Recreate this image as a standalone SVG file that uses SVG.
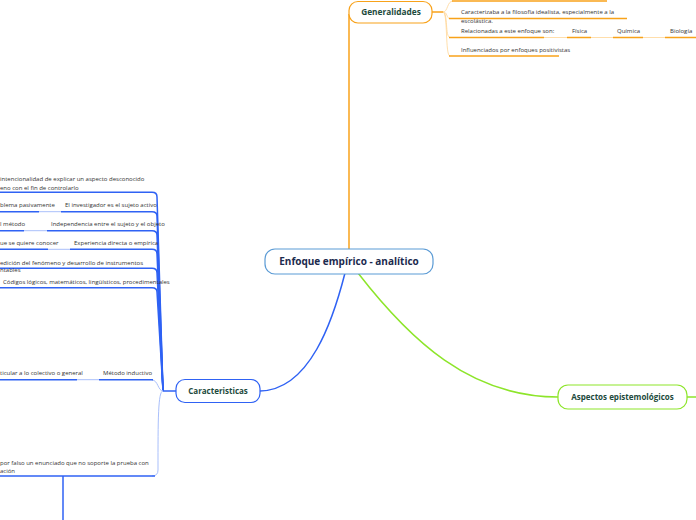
<svg xmlns="http://www.w3.org/2000/svg" width="696" height="520" viewBox="0 0 696 520">
<style>
.t{font-family:"Open Sans","Noto Sans","Liberation Sans",sans-serif;font-size:6px;fill:#333}
.h{font-family:"Open Sans","Noto Sans","Liberation Sans",sans-serif;font-weight:bold;text-anchor:middle}
.o{fill:none;stroke:#f8a21a;stroke-width:1.5}
.ol{fill:none;stroke:#ffd596;stroke-width:0.8}
.b{fill:none;stroke:#2f62f4;stroke-width:1.5}
.bl{fill:none;stroke:#a9bffb;stroke-width:1}
.g{fill:none;stroke:#8de52a;stroke-width:1.5}
</style>
<rect width="696" height="520" fill="#fff"/>
<g id="connectors">
  <path class="o" d="M349,249 L349,14"/>
  <path class="b" stroke-width="1.8" d="M345,273 C333,320 310,390 260,391"/>
  <path class="g" d="M358,273 C410,340 470,397 558,397"/>
  <path class="g" stroke-width="2" d="M687,397 H696"/>
  <!-- Generalidades fan -->
  <path class="o" d="M432,12 H443"/>
  <path class="ol" d="M443,12 C448,12 447,1 453,1"/>
  <path class="ol" d="M443,12 C448,12 446,18.5 450,18.5"/>
  <path class="ol" d="M443,12 C448,12 445,37.5 450,37.5"/>
  <path class="ol" d="M443,12 C448,12 445,56 450,56"/>
  <path class="o" d="M452,1 H607"/>
  <path class="o" d="M449,18.5 H627"/>
  <path class="o" d="M449,37.5 H544"/>
  <path class="ol" d="M544,37.5 H567 M591,37.5 H613 M643,37.5 H665"/>
  <path class="o" d="M567,37.5 H591 M613,37.5 H643 M665,37.5 H696"/>
  <path class="o" d="M449,56 H559"/>
  <!-- Caracteristicas -->
  <path class="b" stroke-width="2.5" d="M163,391 H176"/>
  <path class="b" d="M163,391 L157,197 Q157,192.3 152,192.3 H0"/>
  <path class="b" d="M163,391 L157,216 Q157,211.7 152,211.7 H61"/>
  <path class="b" d="M163,391 L157,235 Q157,230.7 152,230.7 H47"/>
  <path class="b" d="M163,391 L157,254 Q157,249.3 152,249.3 H70"/>
  <path class="b" d="M163,391 L157,273 Q157,268.3 152,268.3 H0"/>
  <path class="b" d="M163,391 L157,292 Q157,287.7 152,287.7 H0"/>
  <path class="bl" d="M163,391 C158,391 158,380 152,380"/>
  <path class="b" d="M153,379.7 H99"/>
  <path class="bl" d="M99,379.7 H77 M61,211.7 H39 M47,230.7 H24 M70,249.3 H48"/>
  <path class="b" d="M77,379.7 H0 M39,211.7 H0 M24,230.7 H0 M48,249.3 H0"/>
  <path class="bl" d="M163,391 C158,391 158,420 158,470 Q158,476 152,476"/>
  <path class="b" d="M155,476 H0"/>
  <path class="b" stroke-width="2" d="M63,476 V520"/>
</g>
<g id="central">
  <rect x="265" y="249" width="168" height="25" rx="10" fill="#fff" stroke="#5b9bd5" stroke-width="1.2"/>
  <text class="h" x="349" y="265" font-size="10" fill="#1b2a4e">Enfoque empírico - analítico</text>
</g>
<g id="generalidades">
  <rect x="349" y="1.5" width="83" height="21.5" rx="9" fill="#fff" stroke="#f8a21a" stroke-width="1.2"/>
  <text class="h" x="391" y="15" font-size="8.3" fill="#1d4a3c">Generalidades</text>
</g>
<g id="caracterizaba"><text class="t" x="461" y="13.8">Caracterizaba a la filosofía idealista, especialmente a la</text><text class="t" x="461" y="22.8">escolástica.</text></g>
<g id="relacionadas"><text class="t" x="461" y="32.8">Relacionadas a este enfoque son:</text></g>
<g id="fisica"><text class="t" x="572" y="32.8">Física</text></g>
<g id="quimica"><text class="t" x="617" y="32.8">Química</text></g>
<g id="biologia"><text class="t" x="670" y="32.8">Biología</text></g>
<g id="influenciados"><text class="t" x="461" y="52">Influenciados por enfoques positivistas</text></g>
<g id="caracteristicas">
  <rect x="176" y="379.5" width="84" height="23" rx="9" fill="#fff" stroke="#2f62f4" stroke-width="1.2"/>
  <text class="h" x="218" y="394" font-size="8" fill="#1d4a3c">Caracteristicas</text>
</g>
<g id="aspectos">
  <rect x="558" y="385" width="129" height="24" rx="10" fill="#fff" stroke="#8de52a" stroke-width="1.2"/>
  <text class="h" x="622.5" y="400" font-size="8" fill="#1d4a3c">Aspectos epistemológicos</text>
</g>
<g id="item1"><text class="t" x="0" y="181">intencionalidad de explicar un aspecto desconocido</text><text class="t" x="0" y="190">eno con el fin de controlarlo</text></g>
<g id="item2a"><text class="t" x="0" y="207">blema pasivamente</text></g>
<g id="item2"><text class="t" x="65" y="207">El investigador es el sujeto activo</text></g>
<g id="item3a"><text class="t" x="0" y="226.3">l método</text></g>
<g id="item3"><text class="t" x="51" y="226.3">Independencia entre el sujeto y el objeto</text></g>
<g id="item4a"><text class="t" x="0" y="245.3">ue se quiere conocer</text></g>
<g id="item4"><text class="t" x="74" y="245.3">Experiencia directa o empírica</text></g>
<g id="item5"><text class="t" x="0" y="264.7">edición del fenómeno y desarrollo de instrumentos</text><text class="t" x="0" y="272.3">ntables</text></g>
<g id="item6"><text class="t" x="3" y="284">Códigos lógicos, matemáticos, lingüísticos, procedimentales</text></g>
<g id="item7a"><text class="t" x="0" y="374.7">ticular a lo colectivo o general</text></g>
<g id="item7"><text class="t" x="103" y="374.7">Método inductivo</text></g>
<g id="item8"><text class="t" x="0" y="464.7">por falso un enunciado que no soporte la prueba con</text><text class="t" x="0" y="472.7">ación</text></g>
</svg>
